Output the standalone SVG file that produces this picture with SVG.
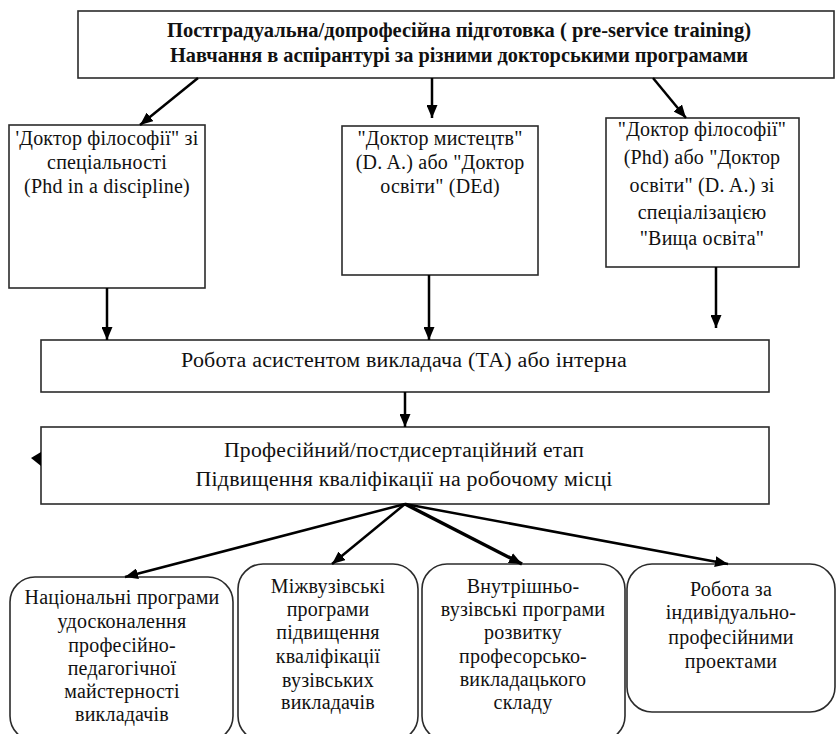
<svg xmlns="http://www.w3.org/2000/svg" width="836" height="734" viewBox="0 0 836 734">
<defs>
<style>
.box{fill:#fff;stroke:#2b2b2b;stroke-width:1.6}
.rbox{fill:#fff;stroke:#2b2b2b;stroke-width:1.6}
.t{font-family:"Liberation Serif","DejaVu Serif",serif;font-size:20px;fill:#111;text-anchor:middle;letter-spacing:0.2px}
.tb{font-family:"Liberation Serif","DejaVu Serif",serif;font-size:21px;font-weight:bold;fill:#111;text-anchor:middle}
.c{stroke:#000;stroke-width:2.5;fill:none;marker-end:url(#ah)}
</style>
<marker id="ah" markerUnits="userSpaceOnUse" markerWidth="13" markerHeight="11" refX="13" refY="5.5" orient="auto">
<path d="M0,0 L13,5.5 L0,11 z" fill="#000"/>
</marker>
</defs>
<rect width="836" height="734" fill="#fff"/>

<g id="top">
<rect class="box" x="78" y="11" width="756" height="67"/>
<text class="tb" x="459" y="37" textLength="584" lengthAdjust="spacingAndGlyphs">Постградуальна/допрофесійна підготовка ( pre-service training)</text>
<text class="tb" x="459" y="62" textLength="578" lengthAdjust="spacingAndGlyphs">Навчання в аспірантурі за різними докторськими програмами</text>
</g>

<g id="phd">
<rect class="box" x="9" y="125" width="196" height="163"/>
<text class="t" x="107" y="145">'Доктор філософії" зі</text>
<text class="t" x="107" y="169">спеціальності</text>
<text class="t" x="107" y="193">(Phd in a discipline)</text>
</g>

<g id="da">
<rect class="box" x="342" y="126" width="196" height="149"/>
<text class="t" x="440" y="145">"Доктор мистецтв"</text>
<text class="t" x="440" y="169">(D. A.) або "Доктор</text>
<text class="t" x="440" y="193">освіти" (DEd)</text>
</g>

<g id="higher">
<rect class="box" x="606" y="118" width="193" height="149"/>
<text class="t" x="702" y="136">"Доктор філософії"</text>
<text class="t" x="702" y="164">(Phd) або "Доктор</text>
<text class="t" x="702" y="192">освіти" (D. A.) зі</text>
<text class="t" x="702" y="219">спеціалізацією</text>
<text class="t" x="702" y="245">"Вища освіта"</text>
</g>

<g id="ta">
<rect class="box" x="41" y="340" width="728" height="52"/>
<text class="t" x="404" y="367" textLength="446" lengthAdjust="spacingAndGlyphs">Робота асистентом викладача (ТА) або інтерна</text>
</g>

<g id="prof">
<rect class="box" x="41" y="427" width="728" height="77"/>
<text class="t" x="404" y="457" textLength="360" lengthAdjust="spacingAndGlyphs">Професійний/постдисертаційний етап</text>
<text class="t" x="404" y="486" textLength="417" lengthAdjust="spacingAndGlyphs">Підвищення кваліфікації на робочому місці</text>
</g>

<g id="national">
<rect class="rbox" x="10" y="577" width="223" height="164" rx="25" ry="25"/>
<text class="t" x="122" y="604">Національні програми</text>
<text class="t" x="122" y="628">удосконалення</text>
<text class="t" x="122" y="652">професійно-</text>
<text class="t" x="122" y="675">педагогічної</text>
<text class="t" x="122" y="698">майстерності</text>
<text class="t" x="122" y="721">викладачів</text>
</g>

<g id="inter">
<rect class="rbox" x="238" y="564" width="180" height="177" rx="25" ry="25"/>
<text class="t" x="328" y="593">Міжвузівські</text>
<text class="t" x="328" y="616">програми</text>
<text class="t" x="328" y="639">підвищення</text>
<text class="t" x="328" y="663">кваліфікації</text>
<text class="t" x="328" y="687">вузівських</text>
<text class="t" x="328" y="709">викладачів</text>
</g>

<g id="intra">
<rect class="rbox" x="422" y="564" width="203" height="177" rx="25" ry="25"/>
<text class="t" x="523" y="593">Внутрішньо-</text>
<text class="t" x="523" y="616">вузівські програми</text>
<text class="t" x="523" y="639">розвитку</text>
<text class="t" x="523" y="663">професорсько-</text>
<text class="t" x="523" y="686">викладацького</text>
<text class="t" x="523" y="709">складу</text>
</g>

<g id="individual">
<rect class="rbox" x="627" y="564" width="208" height="148" rx="25" ry="25"/>
<text class="t" x="731" y="596">Робота за</text>
<text class="t" x="731" y="619">індивідуально-</text>
<text class="t" x="731" y="644">професійними</text>
<text class="t" x="731" y="668">проектами</text>
</g>

<g id="connectors">
<line class="c" x1="198" y1="78" x2="140" y2="125"/>
<line class="c" x1="432" y1="78" x2="432" y2="118"/>
<line class="c" x1="653" y1="78" x2="686" y2="118"/>
<line class="c" x1="107" y1="288" x2="107" y2="340"/>
<line class="c" x1="429" y1="275" x2="429" y2="340"/>
<line class="c" x1="716" y1="267" x2="716" y2="328"/>
<line class="c" x1="405" y1="392" x2="405" y2="427"/>
<line class="c" x1="405" y1="504" x2="125" y2="577"/>
<line class="c" x1="405" y1="504" x2="332" y2="564"/>
<line class="c" x1="405" y1="504" x2="522" y2="564" style="stroke-width:3.5"/>
<line class="c" x1="405" y1="504" x2="728" y2="564"/>
<polygon points="41,452 41,466 31,458" fill="#000"/>
</g>
</svg>
